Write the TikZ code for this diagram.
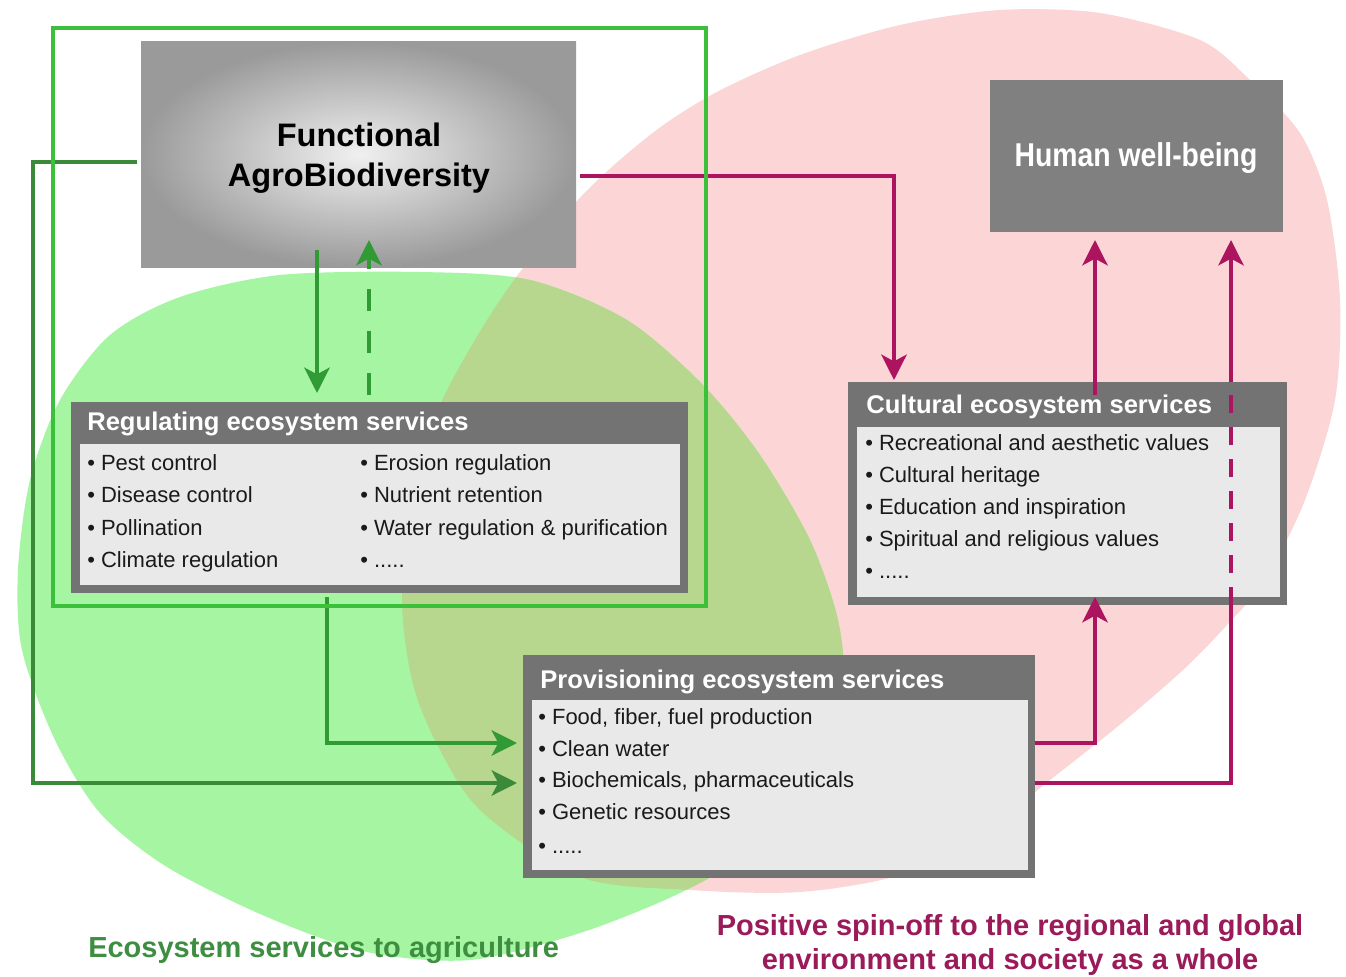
\documentclass[tikz,border=0pt]{standalone}
\usepackage{fontspec}
\setmainfont{Liberation Sans}
\newfontfamily\condfont[FakeStretch=0.86]{Liberation Sans}
\usetikzlibrary{arrows.meta,calc}
\definecolor{pinkc}{HTML}{FCD6D6}
\definecolor{greenc}{HTML}{A5F5A2}
\definecolor{olivec}{HTML}{B7D68E}
\definecolor{rectgreen}{HTML}{3CC03C}
\definecolor{dgreen}{HTML}{309A35}
\definecolor{dgreen2}{HTML}{3A8A3A}
\definecolor{magc}{HTML}{AD1460}
\definecolor{boxgray}{HTML}{737373}
\definecolor{hwbc}{HTML}{808080}
\definecolor{panelc}{HTML}{E9E9E9}
\definecolor{itemc}{HTML}{1A1A1A}
\definecolor{fabin}{HTML}{F0F0F0}
\definecolor{fabout}{HTML}{9A9A9A}
\definecolor{txtgreen}{HTML}{3E8E41}
\definecolor{txtmag}{HTML}{9B1A5A}
\begin{document}
\begin{tikzpicture}[x=0.75pt,y=-0.75pt,
  outerbox/.style={fill=boxgray, anchor=north west, inner sep=0pt, outer sep=0pt},
  panel/.style={fill=panelc, anchor=north west, inner sep=0pt, outer sep=0pt},
  boxtitle/.style={anchor=base west, inner sep=0pt, text=white, font=\fontsize{19.2pt}{22pt}\selectfont\bfseries},
  item/.style={anchor=base west, inner sep=0pt, text=itemc, font=\fontsize{16.5pt}{19pt}\selectfont},
  tipg/.style={-{Stealth[length=19pt,width=19pt,inset=5pt]}},
  garr/.style={draw=dgreen, line width=3pt, tipg},
  garr2/.style={draw=dgreen2, line width=3pt, tipg},
  gdash/.style={dash pattern=on 16.5pt off 15pt},
  mline/.style={draw=magc, line width=3pt},
  marr/.style={mline, tipg},
  mdash/.style={dash pattern=on 13.5pt off 10.5pt}
]
\useasboundingbox (0,0) rectangle (1346,977);
\fill[white] (0,0) rectangle (1346,977);

% background blobs
\fill[pinkc] plot[smooth cycle] coordinates {(1000,10) (1100,13) (1200,40) (1250,80) (1300,133) (1327,200) (1340,300) (1335,400) (1305,500) (1265,580) (1227,625) (1183,670) (1117,727) (1050,780) (980,835) (900,875) (800,892) (690,890) (580,877) (480,810) (435,740) (412,680) (402,600) (412,500) (440,405) (500,300) (578,200) (650,135) (715,93) (800,55) (900,25)};
\fill[greenc] plot[smooth cycle] coordinates {(420,272) (530,280) (627,320) (703,385) (760,455) (810,540) (838,620) (843,690) (818,765) (750,850) (680,893) (580,933) (470,960) (367,952) (267,917) (167,867) (100,813) (55,740) (22,650) (18,570) (30,480) (60,400) (110,335) (180,297) (280,275)};
\begin{scope}
\clip plot[smooth cycle] coordinates {(420,272) (530,280) (627,320) (703,385) (760,455) (810,540) (838,620) (843,690) (818,765) (750,850) (680,893) (580,933) (470,960) (367,952) (267,917) (167,867) (100,813) (55,740) (22,650) (18,570) (30,480) (60,400) (110,335) (180,297) (280,275)};
\fill[olivec] plot[smooth cycle] coordinates {(1000,10) (1100,13) (1200,40) (1250,80) (1300,133) (1327,200) (1340,300) (1335,400) (1305,500) (1265,580) (1227,625) (1183,670) (1117,727) (1050,780) (980,835) (900,875) (800,892) (690,890) (580,877) (480,810) (435,740) (412,680) (402,600) (412,500) (440,405) (500,300) (578,200) (650,135) (715,93) (800,55) (900,25)};
\end{scope}

% helper coordinates
\coordinate (x33) at (33,0);
\coordinate (x317) at (317,0);
\coordinate (x327) at (327,0);
\coordinate (x369) at (369,0);
\coordinate (x894) at (894,0);
\coordinate (x1095) at (1095,0);
\coordinate (x1231) at (1231,0);
\coordinate (y162) at (0,162);
\coordinate (y176) at (0,176);
\coordinate (y743) at (0,743);
\coordinate (y783) at (0,783);

% Functional AgroBiodiversity
\node[anchor=north west, inner sep=0pt, outer sep=0pt, minimum width=326.25pt, minimum height=168.75pt, inner color=fabin, outer color=fabout] (fab) at (141,42) {};
\node[anchor=base, inner sep=0pt, font=\fontsize{24.4pt}{28pt}\selectfont\bfseries] (fabt1) at (359,147) {Functional};
\node[anchor=base, inner sep=0pt, font=\fontsize{24.4pt}{28pt}\selectfont\bfseries] (fabt2) at (359,187) {AgroBiodiversity};

% Human well-being
\node[fill=hwbc, anchor=north west, inner sep=0pt, outer sep=0pt, minimum width=219.75pt, minimum height=114pt] (hwb) at (990,80) {};
\node[anchor=base, inner sep=0pt, text=white, font=\condfont\fontsize{24.75pt}{28pt}\selectfont\bfseries] (hwbt) at (1136,167) {Human well-being};

% Regulating
\node[outerbox, minimum width=462.75pt, minimum height=143.25pt] (reg) at (71,402) {};
\node[panel, minimum width=450pt, minimum height=105.75pt] (regp) at (80,444) {};
\node[boxtitle] (regt) at (87,430) {Regulating ecosystem services};
\node[item] (r1) at (87,470) {\textbullet\ Pest control};
\node[item] (r2) at (87,502) {\textbullet\ Disease control};
\node[item] (r3) at (87,535) {\textbullet\ Pollination};
\node[item] (r4) at (87,567) {\textbullet\ Climate regulation};
\node[item] (r5) at (360,470) {\textbullet\ Erosion regulation};
\node[item] (r6) at (360,502) {\textbullet\ Nutrient retention};
\node[item] (r7) at (360,535) {\textbullet\ Water regulation \& purification};
\node[item] (r8) at (360,567) {\textbullet\ .....};

% Cultural
\node[outerbox, minimum width=329.25pt, minimum height=167.25pt] (cult) at (848,382) {};
\node[panel, minimum width=317.25pt, minimum height=127.5pt] (cultp) at (857,427) {};
\node[boxtitle] (cultt) at (866,413) {Cultural ecosystem services};
\node[item] (c1) at (865,450) {\textbullet\ Recreational and aesthetic values};
\node[item] (c2) at (865,482) {\textbullet\ Cultural heritage};
\node[item] (c3) at (865,514) {\textbullet\ Education and inspiration};
\node[item] (c4) at (865,546) {\textbullet\ Spiritual and religious values};
\node[item] (c5) at (865,578) {\textbullet\ .....};

% Provisioning
\node[outerbox, minimum width=384pt, minimum height=167.25pt] (prov) at (523,655) {};
\node[panel, minimum width=372pt, minimum height=127.5pt] (provp) at (532,700) {};
\node[boxtitle] (provt) at (540,688) {Provisioning ecosystem services};
\node[item] (p1) at (538,724) {\textbullet\ Food, fiber, fuel production};
\node[item] (p2) at (538,756) {\textbullet\ Clean water};
\node[item] (p3) at (538,787) {\textbullet\ Biochemicals, pharmaceuticals};
\node[item] (p4) at (538,819) {\textbullet\ Genetic resources};
\node[item] (p5) at (538,853) {\textbullet\ .....};

% green connectors
\draw[garr, shorten <=-12.75pt, shorten >=6.75pt] (fab.south -| x317) -- (reg.north -| x317);
\draw[garr, gdash, shorten <=5.25pt, shorten >=-20.25pt] (reg.north -| x369) -- (fab.south -| x369);
\draw[garr2, shorten <=3pt, shorten >=4.5pt] (fab.west |- y162) -- (x33 |- y162) -- (x33 |- y783) -- (prov.west |- y783);
\draw[garr, shorten <=3pt, shorten >=4.5pt] (reg.south -| x327) -- (x327 |- y743) -- (prov.west |- y743);

% magenta connectors
\draw[marr, shorten <=3pt, shorten >=1.5pt] (fab.east |- y176) -- (x894 |- y176) -- (cult.north -| x894);
\draw[marr, shorten <=-9.75pt, shorten >=6pt] (cult.north -| x1095) -- (hwb.south -| x1095);
\draw[marr, shorten >=-6pt] (prov.east |- y743) -- (x1095 |- y743) -- (cult.south -| x1095);
\draw[mline] (prov.east |- y783) -- (x1231 |- y783) -- (cult.south -| x1231);
\draw[mline, mdash] (cult.south -| x1231) -- (cult.north -| x1231);
\draw[marr, shorten >=6pt] (cult.north -| x1231) -- (hwb.south -| x1231);

% agriculture frame
\node[draw=rectgreen, line width=3.5pt, anchor=north west, inner sep=0pt, outer sep=0pt, minimum width=489.75pt, minimum height=433.5pt] (agroframe) at (53,28) {};

% bottom captions
\node[anchor=base west, inner sep=0pt, text=txtgreen, font=\fontsize{21.75pt}{26pt}\selectfont\bfseries] (capg) at (88,957) {Ecosystem services to agriculture};
\node[anchor=base, inner sep=0pt, text=txtmag, font=\fontsize{21.75pt}{26pt}\selectfont\bfseries] (capm1) at (1010,935) {Positive spin-off to the regional and global};
\node[anchor=base, inner sep=0pt, text=txtmag, font=\fontsize{21.75pt}{26pt}\selectfont\bfseries] (capm2) at (1010,969) {environment and society as a whole};
\end{tikzpicture}
\end{document}
